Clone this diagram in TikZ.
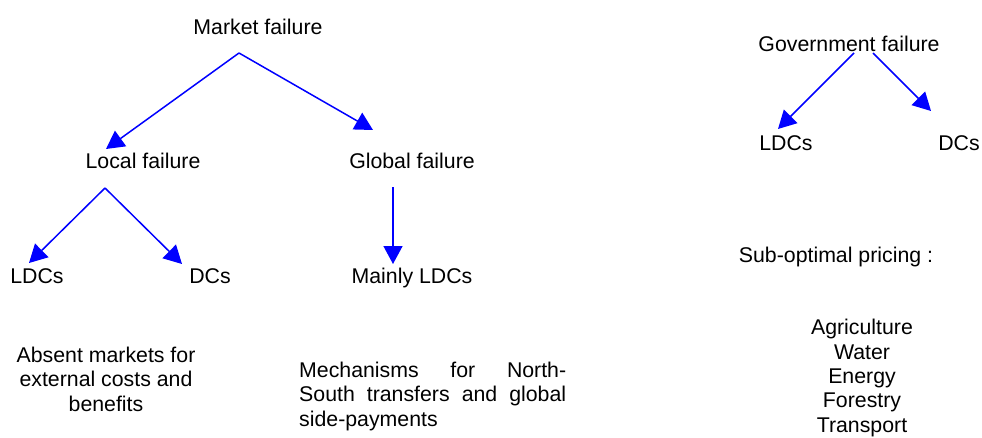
\documentclass[tikz,border=0pt]{standalone}
\usepackage{fontspec}
\setmainfont{Liberation Sans}
\usetikzlibrary{arrows.meta}
\begin{document}
\begin{tikzpicture}[x=1pt,y=-1pt,
  every node/.style={inner sep=0pt, font=\fontsize{21.3}{24.3}\selectfont},
  lbl/.style={anchor=base},
  para/.style={anchor=base, align=center},
  arr/.style={draw=blue, line width=1.5pt, -{Triangle[length=18pt,width=19pt]}}]
\useasboundingbox (0,0) rectangle (982,437);
% left tree
\node[lbl] (mf) at (258,34) {Market failure};
\node[lbl] (lf) at (143,168) {Local failure};
\node[lbl] (gf) at (412,168) {Global failure};
\node[lbl] (ldc) at (37,283) {LDCs};
\node[lbl] (dc) at (210,283) {DCs};
\node[lbl] (ml) at (412,283) {Mainly LDCs};
\coordinate (mfa) at (239,53);
\coordinate (lft) at (106,149);
\coordinate (gft) at (373,130);
\coordinate (lfa) at (105,188);
\coordinate (ldct) at (29,263);
\coordinate (dct) at (182,264);
\coordinate (gfa) at (393,187);
\coordinate (mlt) at (393,264);
\draw[arr] (mfa) -- (lft);
\draw[arr] (mfa) -- (gft);
\draw[arr] (lfa) -- (ldct);
\draw[arr] (lfa) -- (dct);
\draw[arr] (gfa) -- (mlt);
\node[para] (absent) at (106,411) {Absent markets for\\external costs and\\benefits};
\node[anchor=base west, align=left] (mech) at (299,426) {\makebox[267pt][s]{Mechanisms for North-}\\\makebox[267pt][s]{South transfers and global}\\side-payments};
% right tree
\node[lbl] (gov) at (849,51) {Government failure};
\node[lbl] (rldc) at (786,150) {LDCs};
\node[lbl] (rdc) at (959,150) {DCs};
\coordinate (gva) at (854,53);
\coordinate (gvt) at (778,129);
\coordinate (gvb) at (873,53);
\coordinate (gvbt) at (931,111);
\draw[arr] (gva) -- (gvt);
\draw[arr] (gvb) -- (gvbt);
\node[lbl] (sub) at (836,262) {Sub-optimal pricing :};
\node[para] (sect) at (862,432) {Agriculture\\Water\\Energy\\Forestry\\Transport};
\end{tikzpicture}
\end{document}
